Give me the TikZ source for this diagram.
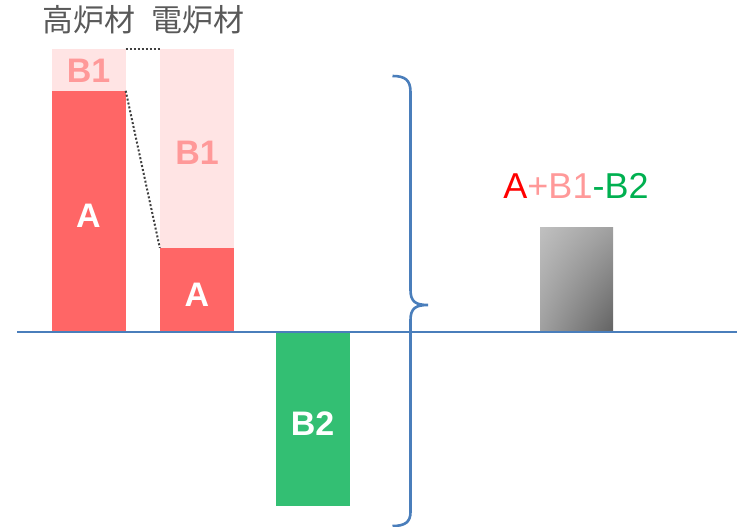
\documentclass[tikz,border=0pt]{standalone}
\usepackage{fontspec}
\setmainfont{Liberation Sans}
\newfontfamily\jpfont{Noto Sans CJK JP}
\usetikzlibrary{shadings}
\definecolor{redbar}{RGB}{255, 102, 102}
\definecolor{pinkbar}{RGB}{255, 228, 228}
\definecolor{pinktext}{RGB}{255, 153, 153}
\definecolor{greenbar}{RGB}{51, 191, 115}
\definecolor{greentext}{RGB}{0, 176, 80}
\definecolor{axisblue}{RGB}{74, 126, 187}
\definecolor{labelgray}{RGB}{89, 89, 89}
\definecolor{shadelight}{RGB}{192, 192, 192}
\definecolor{shademid}{RGB}{160, 160, 160}
\definecolor{shadedark}{RGB}{98, 98, 98}

\begin{document}
\begin{tikzpicture}[x=1pt, y=-1pt,
   bar/.style={inner sep=0pt, minimum width=74pt, text height=32pt, font=\fontsize{34}{38}\selectfont\bfseries},
   title/.style={font=\jpfont\fontsize{31}{35}\selectfont, text=labelgray}]
  \useasboundingbox (0,0) rectangle (737,527);
  % bars
  \node[bar, fill=redbar, text=white, minimum height=241pt] (a1) at (88.5,211.5) {A};
  \node[bar, fill=pinkbar, text=pinktext, minimum height=42pt, text height=25pt] (b1) at (88.5,70) {B1};
  \node[bar, fill=pinkbar, text=pinktext, minimum height=199pt] (b2) at (197,148.5) {B1};
  \node[bar, fill=redbar, text=white, minimum height=84pt] (a2) at (197,290) {A};
  \node[bar, fill=greenbar, text=white, minimum height=174pt] (g) at (312.5,419) {B2};
  \node[bar, minimum width=73pt, minimum height=105pt, upper left=shadelight, upper right=shademid,
        lower left=shademid, lower right=shadedark] (s) at (576.5,279.5) {};
  % labels
  \node[title] (t1) at (89,20) {高炉材};
  \node[title] (t2) at (198,20) {電炉材};
  \node[font=\fontsize{36}{40}\selectfont] (f) at (576,186)
    {\textcolor{red}{A}\textcolor{pinktext}{+B1}\textcolor{greentext}{-B2}};
  % links
  \draw[black!75, dotted, line width=2pt] (b1.north east) -- (b2.north west);
  \draw[black!75, dotted, line width=2pt] (a1.north east) -- (a2.north west);
  % axis and brace
  \coordinate (x0) at (17,332); \coordinate (x1) at (737,332);
  \draw[axisblue, line width=2.8pt] (x0) -- (x1);
  \draw[axisblue, line width=2.6pt] (392.5,76) .. controls (405,76) and (410.5,80) .. (410.5,92)
    -- (410.5,290) .. controls (410.5,302) and (416,305) .. (428,305)
    .. controls (416,305) and (410.5,308) .. (410.5,320)
    -- (410.5,512) .. controls (410.5,522) and (405,526) .. (392.5,526);
\end{tikzpicture}
\end{document}
